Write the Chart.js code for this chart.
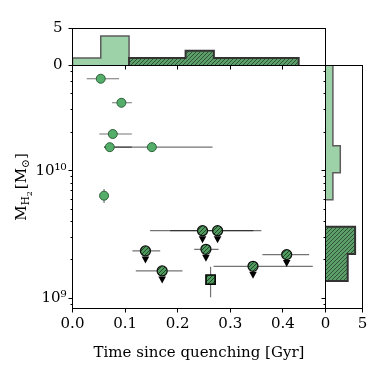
<!DOCTYPE html>
<html>
<head>
<meta charset="utf-8">
<script src="https://cdn.jsdelivr.net/npm/chart.js@4"></script>
<style>
  html, body { margin: 0; padding: 0; background: #fff; }
  #wrap { position: relative; width: 374px; height: 374px; }
  #wrap canvas { position: absolute; left: 0; top: 0; }
</style>
</head>
<body>
<div id="wrap">
  <canvas id="topHist" width="374" height="374"></canvas>
  <canvas id="rightHist" width="374" height="374"></canvas>
  <canvas id="main" width="374" height="374"></canvas>
</div>
<script>
// detected galaxies (light green, filled)
const lightTime   = [0.0537, 0.093, 0.0766, 0.0709, 0.1509, 0.060];
const lightTimeLo = [0.027, 0.0752, 0.051, 0.060, 0.060, 0.0524];
const lightTimeHi = [0.0886, 0.1128, 0.1128, 0.1128, 0.2663, 0.0676];
const lightMass   = [5.26e10, 3.41e10, 1.94e10, 1.53e10, 1.53e10, 6.37e9];
const lightMassLo = [null, null, null, null, 1.41e10, 5.58e9];
const lightMassHi = [null, null, null, null, 1.66e10, 7.2e9];

// upper limits (hatched circles with arrows)
const limTime   = [0.2472, 0.2758, 0.1387, 0.2537, 0.1705, 0.3432, 0.4072];
const limTimeLo = [0.1476, 0.1857, 0.1139, 0.2314, 0.1204, 0.2682, 0.361];
const limTimeHi = [0.359, 0.3438, 0.1667, 0.2777, 0.2091, 0.4568, 0.4499];
const limMass   = [3.39e9, 3.39e9, 2.35e9, 2.42e9, 1.64e9, 1.78e9, 2.20e9];

// hatched square
const sqTime   = [0.2625];
const sqMass   = [1.40e9];
const sqMassLo = [1.02e9];
const sqMassHi = [1.77e9];

// histograms
const timeBinEdges    = [0, 0.05375, 0.1075, 0.16125, 0.215, 0.26875, 0.3225, 0.37625, 0.43];
const timeCountsLight = [1, 4, 1, 0, 0, 0, 0, 0];
const timeCountsDark  = [0, 0, 1, 1, 2, 1, 1, 1];
const massBinLogEdges = [9.136, 9.348, 9.560, 9.772, 9.984, 10.196, 10.408, 10.620, 10.832];
const massCountsLight = [0, 0, 0, 1, 2, 1, 1, 1];
const massCountsDark  = [3, 4, 0, 0, 0, 0, 0, 0];

// axes
const timeTicks = [0, 0.1, 0.2, 0.3, 0.4];
const massMajor = [1e9, 1e10];
const massMinor = [9e8, 2e9, 3e9, 4e9, 5e9, 6e9, 7e9, 8e9, 9e9, 2e10, 3e10, 4e10, 5e10, 6e10];
const timeMax = 0.481;
const massMin = 8.32e8;
const massMax = 6.68e10;
const countTicks = [0, 5];

Chart.defaults.font.family = "'DejaVu Serif', serif";
Chart.defaults.font.size = 15;
Chart.defaults.color = '#000';

function makeHatch(canvasId, base, line) {
  const c = document.createElement('canvas');
  c.width = 4; c.height = 4;
  const g = c.getContext('2d');
  g.fillStyle = base;
  g.fillRect(0, 0, 4, 4);
  g.strokeStyle = line;
  g.lineWidth = 0.9;
  g.beginPath();
  g.moveTo(0, 4); g.lineTo(4, 0);
  g.moveTo(-1, 1); g.lineTo(1, -1);
  g.moveTo(3, 5); g.lineTo(5, 3);
  g.stroke();
  return document.getElementById(canvasId).getContext('2d').createPattern(c, 'repeat');
}

function outline(edges, counts, horizontal) {
  const a = counts.findIndex(c => c > 0);
  let b = counts.length - 1;
  while (counts[b] === 0) b--;
  const pts = [[edges[a], 0]];
  for (let i = a; i <= b; i++) {
    pts.push([edges[i], counts[i]]);
    pts.push([edges[i + 1], counts[i]]);
  }
  pts.push([edges[b + 1], 0]);
  return pts.map(([e, c]) => horizontal ? {x: c, y: e} : {x: e, y: c});
}

const snap = v => Math.round(v - 0.5) + 0.5;

const frame = {
  id: 'frame',
  afterDraw(chart, args, opts) {
    const {ctx, chartArea: a} = chart;
    ctx.save();
    ctx.strokeStyle = '#000';
    ctx.lineWidth = 1;
    ctx.strokeRect(a.left, a.top, a.right - a.left, a.bottom - a.top);
    (opts.marks || []).forEach(m => {
      const s = chart.scales[m.scale];
      ctx.beginPath();
      m.values.forEach(v => {
        const p = snap(s.getPixelForValue(v));
        if (m.side === 'bottom') { ctx.moveTo(p, a.bottom); ctx.lineTo(p, a.bottom + m.len); }
        else { ctx.moveTo(a.left - m.len, p); ctx.lineTo(a.left, p); }
      });
      ctx.stroke();
    });
    ctx.restore();
  }
};

const errorBars = {
  id: 'errorBars',
  beforeDatasetsDraw(chart) {
    const {ctx, chartArea: a, scales: {x, y}} = chart;
    ctx.save();
    ctx.beginPath();
    ctx.rect(a.left, a.top, a.right - a.left, a.bottom - a.top);
    ctx.clip();
    ctx.strokeStyle = 'rgba(0,0,0,0.55)';
    ctx.lineWidth = 1.2;
    chart.data.datasets.forEach(ds => {
      ds.data.forEach((p, i) => {
        const px = x.getPixelForValue(p.x), py = y.getPixelForValue(p.y);
        if (ds.xLo && ds.xLo[i] != null) {
          ctx.beginPath();
          ctx.moveTo(x.getPixelForValue(ds.xLo[i]), py);
          ctx.lineTo(x.getPixelForValue(ds.xHi[i]), py);
          ctx.stroke();
        }
        if (ds.yLo && ds.yLo[i] != null) {
          ctx.beginPath();
          ctx.moveTo(px, y.getPixelForValue(ds.yLo[i]));
          ctx.lineTo(px, y.getPixelForValue(ds.yHi[i]));
          ctx.stroke();
        }
      });
    });
    ctx.restore();
  },
  afterDatasetsDraw(chart) {
    const {ctx, scales: {x, y}} = chart;
    ctx.save();
    ctx.fillStyle = '#000';
    chart.data.datasets.forEach(ds => {
      if (!ds.upperLimit) return;
      ds.data.forEach(p => {
        const px = x.getPixelForValue(p.x), py = y.getPixelForValue(p.y);
        ctx.beginPath();
        ctx.moveTo(px - 3.8, py + 5.5);
        ctx.lineTo(px + 3.8, py + 5.5);
        ctx.lineTo(px, py + 12.5);
        ctx.closePath();
        ctx.fill();
      });
    });
    ctx.restore();
  }
};

const massTitle = {
  id: 'massTitle',
  afterDraw(chart) {
    const {ctx, chartArea: a} = chart;
    const parts = [['M', 15, 0], ['H', 10.5, 3.5], ['2', 8, 6], ['[M', 15, 0, 2], ['\u2299', 10.5, 3.5], [']', 15, 0]];
    ctx.save();
    ctx.translate(20, (a.top + a.bottom) / 2);
    ctx.rotate(-Math.PI / 2);
    ctx.fillStyle = '#000';
    ctx.textBaseline = 'alphabetic';
    let total = 0;
    parts.forEach(p => {
      ctx.font = p[1] + "px 'DejaVu Serif'";
      p.w = ctx.measureText(p[0]).width;
      total += p.w + (p[3] || 0);
    });
    let cx = -total / 2;
    parts.forEach(p => {
      cx += p[3] || 0;
      ctx.font = p[1] + "px 'DejaVu Serif'";
      ctx.fillText(p[0], cx, 5.5 + p[2]);
      cx += p.w;
    });
    ctx.restore();
  }
};

const hatchTopDark = makeHatch('topHist', '#5d9f69', '#2b4a33');
const hatchRightDark = makeHatch('rightHist', '#5d9f69', '#2b4a33');
const hatchPoint = makeHatch('main', '#4f9c5e', '#1e3a25');

const base = {
  responsive: false,
  animation: false,
  devicePixelRatio: 1,
  events: []
};

new Chart(document.getElementById('topHist'), {
  type: 'line',
  data: {
    datasets: [
      { data: outline(timeBinEdges, timeCountsDark, false), fill: 'origin', backgroundColor: hatchTopDark,
        borderColor: '#333', borderWidth: 2, pointRadius: 0 },
      { data: outline(timeBinEdges, timeCountsLight, false), fill: 'origin', backgroundColor: '#9dd1a8',
        borderColor: '#5c5c5c', borderWidth: 1.5, pointRadius: 0 }
    ]
  },
  options: Object.assign({}, base, {
    layout: { padding: { left: 32.5, top: 28.5, right: 48.5, bottom: 308.5 } },
    plugins: {
      legend: { display: false }, tooltip: { enabled: false },
      frame: { marks: [
        { scale: 'y', side: 'left', values: countTicks, len: 4 },
        { scale: 'x', side: 'bottom', values: timeTicks, len: 4 }
      ] }
    },
    scales: {
      x: { type: 'linear', display: false, min: 0, max: timeMax },
      y: {
        type: 'linear', min: 0, max: 5,
        afterFit: s => { s.width = 40; },
        afterBuildTicks: s => { s.ticks = countTicks.map(v => ({ value: v })); },
        grid: { display: false, drawTicks: false }, border: { display: false },
        ticks: { padding: 10, callback: v => String(v) }
      }
    }
  }),
  plugins: [frame]
});

new Chart(document.getElementById('rightHist'), {
  type: 'line',
  data: {
    datasets: [
      { data: outline(massBinLogEdges.map(e => Math.pow(10, e)), massCountsDark, true), fill: 'origin',
        backgroundColor: hatchRightDark, borderColor: '#333', borderWidth: 2, pointRadius: 0 },
      { data: outline(massBinLogEdges.map(e => Math.pow(10, e)), massCountsLight, true), fill: 'origin',
        backgroundColor: '#9dd1a8', borderColor: '#5c5c5c', borderWidth: 1.5, pointRadius: 0 }
    ]
  },
  options: Object.assign({}, base, {
    indexAxis: 'y',
    layout: { padding: { left: 325.5, top: 65.5, right: 11.5, bottom: 5.5 } },
    plugins: {
      legend: { display: false }, tooltip: { enabled: false },
      frame: { marks: [
        { scale: 'x', side: 'bottom', values: countTicks, len: 4 },
        { scale: 'y', side: 'left', values: massMajor, len: 4 },
        { scale: 'y', side: 'left', values: massMinor, len: 2 }
      ] }
    },
    scales: {
      x: {
        type: 'linear', min: 0, max: 5,
        afterFit: s => { s.height = 60; },
        afterBuildTicks: s => { s.ticks = countTicks.map(v => ({ value: v })); },
        grid: { display: false, drawTicks: false }, border: { display: false },
        ticks: { padding: 6.5, callback: v => String(v) }
      },
      y: { type: 'logarithmic', display: false, min: massMin, max: massMax }
    }
  }),
  plugins: [frame]
});

new Chart(document.getElementById('main'), {
  type: 'scatter',
  data: {
    datasets: [
      { data: limTime.map((t, i) => ({ x: t, y: limMass[i] })), xLo: limTimeLo, xHi: limTimeHi, upperLimit: true,
        backgroundColor: hatchPoint, borderColor: '#111', borderWidth: 1.3, pointRadius: 5 },
      { data: sqTime.map((t, i) => ({ x: t, y: sqMass[i] })), yLo: sqMassLo, yHi: sqMassHi,
        pointStyle: 'rect', backgroundColor: hatchPoint, borderColor: '#000', borderWidth: 1.6, pointRadius: 6.5 },
      { data: lightTime.map((t, i) => ({ x: t, y: lightMass[i] })), xLo: lightTimeLo, xHi: lightTimeHi,
        yLo: lightMassLo, yHi: lightMassHi,
        backgroundColor: '#54ad69', borderColor: '#2c6139', borderWidth: 1, pointRadius: 4.5 }
    ]
  },
  options: Object.assign({}, base, {
    layout: { padding: { left: 32.5, top: 65.5, right: 48.5, bottom: 5.5 } },
    plugins: {
      legend: { display: false }, tooltip: { enabled: false },
      frame: { marks: [
        { scale: 'x', side: 'bottom', values: timeTicks, len: 4 },
        { scale: 'y', side: 'left', values: massMajor, len: 4 },
        { scale: 'y', side: 'left', values: massMinor, len: 2 }
      ] }
    },
    scales: {
      x: {
        type: 'linear', min: 0, max: timeMax,
        afterFit: s => { s.height = 60; },
        afterBuildTicks: s => { s.ticks = timeTicks.map(v => ({ value: v })); },
        grid: { display: false, drawTicks: false }, border: { display: false },
        ticks: { padding: 6.5, callback: v => v.toFixed(1) },
        title: { display: true, text: 'Time since quenching [Gyr]', padding: { top: 0, bottom: 6.5 }, font: { size: 15 } }
      },
      y: {
        type: 'logarithmic', min: massMin, max: massMax,
        afterFit: s => { s.width = 40; },
        afterBuildTicks: s => { s.ticks = massMajor.map(v => ({ value: v })); },
        grid: { display: false, drawTicks: false }, border: { display: false },
        ticks: { padding: 6, callback: v => (v === 1e9 ? '10\u2079' : '10\u00b9\u2070') }
      }
    }
  }),
  plugins: [errorBars, frame, massTitle]
});
</script>
</body>
</html>
